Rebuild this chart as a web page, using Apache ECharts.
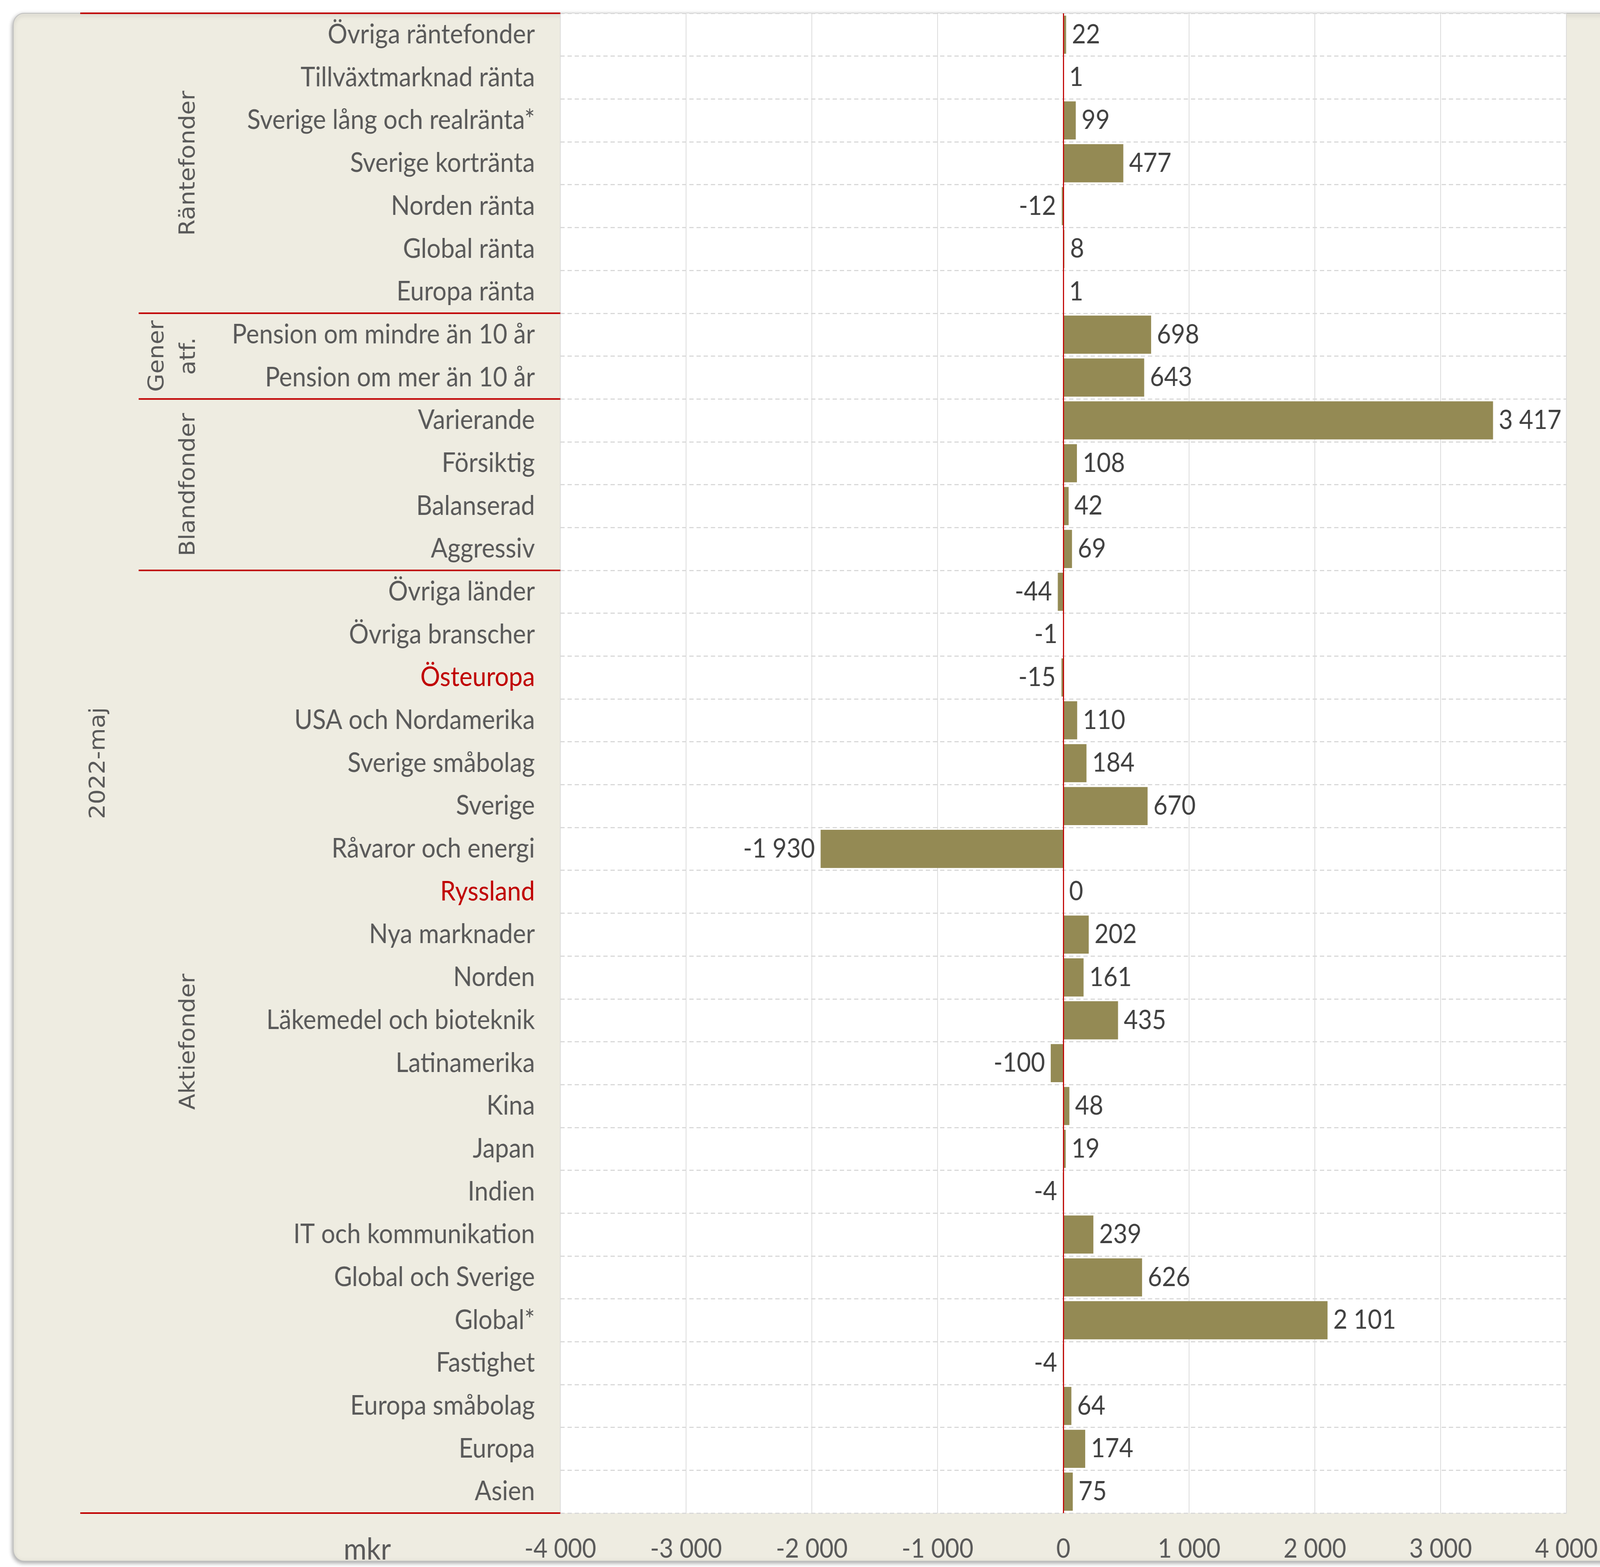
<!DOCTYPE html>
<html><head><meta charset="utf-8">
<script src="https://cdn.jsdelivr.net/npm/echarts@6/dist/echarts.min.js"></script>
<style>html,body{margin:0;padding:0;background:#fff;overflow:hidden}#c{width:4466px;height:4011px;transform-origin:0 0}</style>
</head><body><div id="c"></div>
<script>
const categories = [
  'Övriga räntefonder','Tillväxtmarknad ränta','Sverige lång och realränta*','Sverige kortränta','Norden ränta','Global ränta','Europa ränta',
  'Pension om mindre än 10 år','Pension om mer än 10 år',
  'Varierande','Försiktig','Balanserad','Aggressiv',
  'Övriga länder','Övriga branscher','Östeuropa','USA och Nordamerika','Sverige småbolag','Sverige','Råvaror och energi','Ryssland','Nya marknader','Norden','Läkemedel och bioteknik','Latinamerika','Kina','Japan','Indien','IT och kommunikation','Global och Sverige','Global*','Fastighet','Europa småbolag','Europa','Asien'
];
const values = [
  22, 1, 99, 477, -12, 8, 1,
  698, 643,
  3417, 108, 42, 69,
  -44, -1, -15, 110, 184, 670, -1930, 0, 202, 161, 435, -100, 48, 19, -4, 239, 626, 2101, -4, 64, 174, 75
];
const groupNames = ['Räntefonder', 'Gener\natf.', 'Blandfonder', 'Aktiefonder'];
const groupSizes = [7, 2, 4, 22];
const periodLabel = '2022-maj';
const unitLabel = 'mkr';
const redCategories = ['Östeuropa', 'Ryssland'];
const xTicks = { min: -4000, max: 4000, interval: 1000 };

const BEIGE = '#EEECE1', BAR = '#948A54', RED = '#C00000', GRID = '#D9D9D9';
const TXT = '#595959', VAL = '#404040';
const FONT = 'Lato';

// Fit the 4466-wide design into the actual viewport width
const DESIGN_W = 4466;
const el = document.getElementById('c');
const sx = Math.min(1, window.innerWidth / DESIGN_W);
if (sx < 1) el.style.transform = 'scaleX(' + sx + ')';

function fmt(n) {
  const s = Math.abs(Math.round(n)).toString().replace(/\B(?=(\d{3})+(?!\d))/g, ' ');
  return (n < 0 ? '-' : '') + s;
}

const chart = echarts.init(el, null, { renderer: 'canvas', width: 4466, height: 4011 });

const option = {
  animation: false,
  backgroundColor: 'transparent',
  grid: { left: 1564, right: 94, top: 34, bottom: 138, containLabel: false, show: true, backgroundColor: '#fff', borderWidth: 0 },
  xAxis: {
    type: 'value', min: xTicks.min, max: xTicks.max, interval: xTicks.interval,
    axisLine: { show: false }, axisTick: { show: false },
    splitLine: { show: true, lineStyle: { color: GRID, width: 2, type: 'solid' } },
    axisLabel: { formatter: v => fmt(v), color: TXT, fontFamily: FONT, fontSize: 68, margin: 58 }
  },
  yAxis: {
    type: 'category', data: categories, inverse: true,
    axisLine: { show: false }, axisTick: { show: false },
    splitLine: { show: true, lineStyle: { color: GRID, width: 3, type: [12, 8] } },
    axisLabel: {
      margin: 71, fontFamily: FONT, fontSize: 69,
      formatter: v => redCategories.includes(v) ? '{r|' + v + '}' : '{n|' + v + '}',
      rich: {
        n: { color: TXT, fontFamily: FONT, fontSize: 69 },
        r: { color: RED, fontFamily: FONT, fontSize: 69 }
      }
    }
  },
  series: [{
    type: 'bar',
    data: values.map(v => ({
      value: v,
      label: { position: v < 0 ? 'left' : 'right' }
    })),
    barCategoryGap: '11%',
    itemStyle: { color: BAR },
    label: {
      show: true, distance: 16, color: VAL, fontFamily: FONT, fontSize: 68,
      formatter: p => fmt(p.value)
    },
    markLine: {
      silent: true, symbol: 'none', label: { show: false },
      lineStyle: { color: RED, width: 3, type: 'solid' },
      data: [{ xAxis: 0 }]
    }
  }]
};
chart.setOption(option);

const c0 = chart.convertToPixel({ yAxisIndex: 0 }, categories[0]);
const c1 = chart.convertToPixel({ yAxisIndex: 0 }, categories[1]);
const rowH = c1 - c0;
const boundary = i => c0 + (i - 0.5) * rowH;
const plotLeft = chart.convertToPixel({ xAxisIndex: 0 }, xTicks.min);

const graphics = [];
graphics.push({
  type: 'rect', z: -10, silent: true,
  shape: { x: 37, y: 34, width: 4466, height: 3962, r: 30 },
  style: { fill: BEIGE, stroke: '#BFBFBF', lineWidth: 2, shadowBlur: 12, shadowColor: 'rgba(0,0,0,0.35)', shadowOffsetX: -2, shadowOffsetY: 4 }
});
let start = 0;
const total = categories.length;
graphics.push({ type: 'line', z: 10, shape: { x1: 224, y1: boundary(0), x2: plotLeft, y2: boundary(0) }, style: { stroke: RED, lineWidth: 4 } });
graphics.push({ type: 'line', z: 10, shape: { x1: 224, y1: boundary(total), x2: plotLeft, y2: boundary(total) }, style: { stroke: RED, lineWidth: 4 } });
groupNames.forEach((name, gi) => {
  const end = start + groupSizes[gi];
  if (gi > 0) {
    graphics.push({ type: 'line', z: 10, shape: { x1: 387, y1: boundary(start), x2: plotLeft, y2: boundary(start) }, style: { stroke: RED, lineWidth: 4 } });
  }
  const yc = (boundary(start) + boundary(end)) / 2;
  const twoLine = name.indexOf('\n') >= 0;
  graphics.push({
    type: 'text', z: 10, x: twoLine ? 484 : 527, y: yc, rotation: Math.PI / 2,
    style: { text: name, align: 'center', verticalAlign: 'middle', fill: TXT, font: '60px "DejaVu Sans"', lineHeight: 88 }
  });
  start = end;
});
graphics.push({
  type: 'text', z: 10, x: 276, y: (boundary(0) + boundary(total)) / 2, rotation: Math.PI / 2,
  style: { text: periodLabel, align: 'center', verticalAlign: 'middle', fill: TXT, font: '60px "DejaVu Sans"' }
});
graphics.push({
  type: 'text', z: 10, x: 1025, y: 3967,
  style: { text: unitLabel, align: 'center', verticalAlign: 'middle', fill: TXT, font: '78px Lato' }
});
chart.setOption({ graphic: graphics });
</script>
</body></html>
